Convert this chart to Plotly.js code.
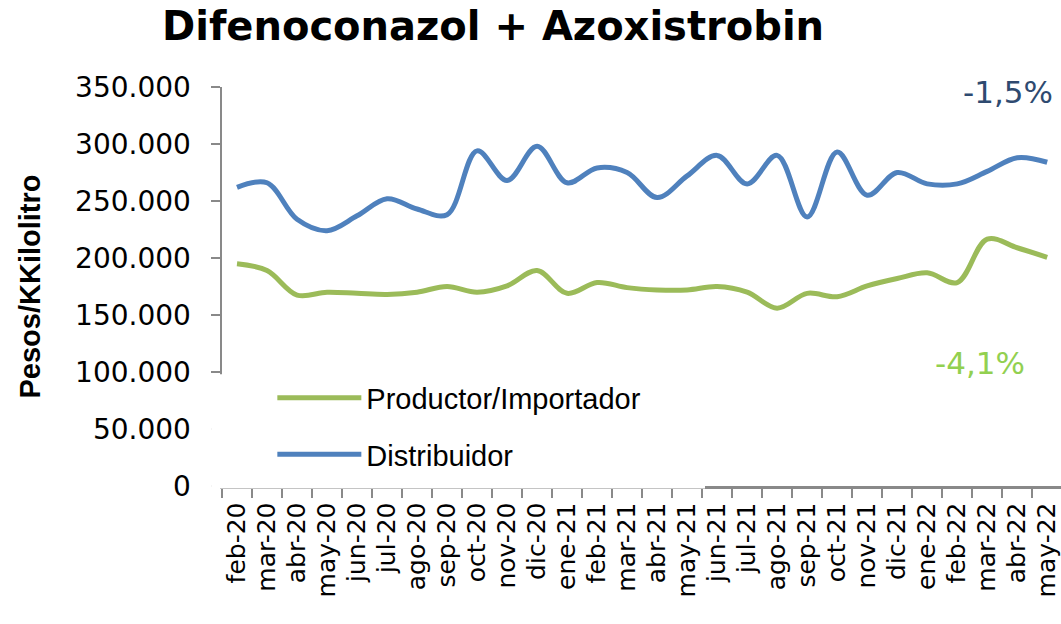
<!DOCTYPE html>
<html>
<head>
<meta charset="utf-8">
<script src="https://cdn.plot.ly/plotly-3.0.1.min.js"></script>
<style>html,body{margin:0;padding:0;background:#fff;overflow:hidden}</style>
</head>
<body>
<div id="chart" style="width:1061px;height:624px"></div>
<script>
const months = ["feb-20","mar-20","abr-20","may-20","jun-20","jul-20","ago-20","sep-20","oct-20","nov-20","dic-20","ene-21","feb-21","mar-21","abr-21","may-21","jun-21","jul-21","ago-21","sep-21","oct-21","nov-21","dic-21","ene-22","feb-22","mar-22","abr-22","may-22"];
const productor = [195000,189000,167500,170000,169000,168000,170000,175000,170000,175500,189000,169000,178500,174000,172000,172000,175000,170000,156000,169000,166000,175500,182000,187000,178500,216500,209000,200500];
const distribuidor = [262000,266000,234000,224000,237000,252000,243000,238000,294000,268000,298000,266000,279000,275000,253000,272000,290000,265000,290000,236000,293000,255000,275000,265000,265000,276000,288000,284000];
const seriesNames = ["Productor/Importador","Distribuidor"];
const changeLabels = ["-4,1%","-1,5%"];

const green = "#9BBB59", blue = "#4F81BD", axisGray = "#898989";

const traces = [
  {x: months, y: productor, name: seriesNames[0], type: "scatter", mode: "lines",
   line: {color: green, width: 5, shape: "spline", smoothing: 1}, legendgroup: "a"},
  {x: months, y: distribuidor, name: seriesNames[1], type: "scatter", mode: "lines",
   line: {color: blue, width: 5, shape: "spline", smoothing: 1}, legendgroup: "b"}
];

const layout = {
  width: 1061, height: 624,
  margin: {l: 222, r: 0, t: 87, b: 138, pad: 0},
  paper_bgcolor: "#fff", plot_bgcolor: "#fff",
  separators: ",.",
  title: {text: "Difenoconazol + Azoxistrobin", x: 0.4647, xref: "container", xanchor: "center",
          y: 0.958, yref: "container", yanchor: "middle",
          font: {family: "DejaVu Sans", size: 40, color: "#000", weight: "bold"}},
  xaxis: {type: "category", range: [-0.5, 27.46], tickmode: "linear", tick0: 0, dtick: 1,
          showgrid: false, zeroline: false,
          showline: true, linecolor: axisGray, linewidth: 2.5,
          ticks: "outside", tickson: "boundaries", ticklen: 9, tickcolor: axisGray, tickwidth: 2,
          tickangle: -90, tickfont: {family: "DejaVu Sans", size: 25, color: "#000"},
          ticklabelstandoff: 4, fixedrange: true},
  yaxis: {range: [0, 350000], dtick: 50000, tickformat: ",.0f", showgrid: false, zeroline: false,
          showline: true, linecolor: axisGray, linewidth: 2.5,
          ticks: "outside", ticklen: 9, tickcolor: axisGray, tickwidth: 2,
          tickfont: {family: "DejaVu Sans", size: 28, color: "#000"}, ticklabelstandoff: 14,
          title: {text: "Pesos/KKilolitro", standoff: 26,
                  font: {family: "Liberation Sans", size: 29, color: "#000", weight: "bold"}},
          fixedrange: true},
  showlegend: true,
  legend: {x: 0.06, xanchor: "left", y: 0.285, yanchor: "top", bgcolor: "rgba(255,255,255,0)",
           borderwidth: 0, font: {family: "Liberation Sans", size: 29, color: "#000"},
           itemwidth: 84, tracegroupgap: 16, traceorder: "grouped"},
  shapes: [
    {type: "rect", xref: "paper", yref: "paper", x0: -0.013, x1: 0.5757, y0: -0.006, y1: 0.28,
     fillcolor: "#fff", line: {width: 0}, layer: "above"}
  ],
  annotations: [
    {text: changeLabels[1], xref: "paper", yref: "paper", x: 0.993, y: 0.9875, xanchor: "right", yanchor: "middle",
     showarrow: false, font: {family: "DejaVu Sans", size: 31, color: "#2E4A70"}},
    {text: changeLabels[0], xref: "paper", yref: "paper", x: 0.9595, y: 0.308, xanchor: "right", yanchor: "middle",
     showarrow: false, font: {family: "DejaVu Sans", size: 31, color: "#92D050"}}
  ]
};

Plotly.newPlot("chart", traces, layout, {displayModeBar: false, staticPlot: true});
</script>
</body>
</html>
